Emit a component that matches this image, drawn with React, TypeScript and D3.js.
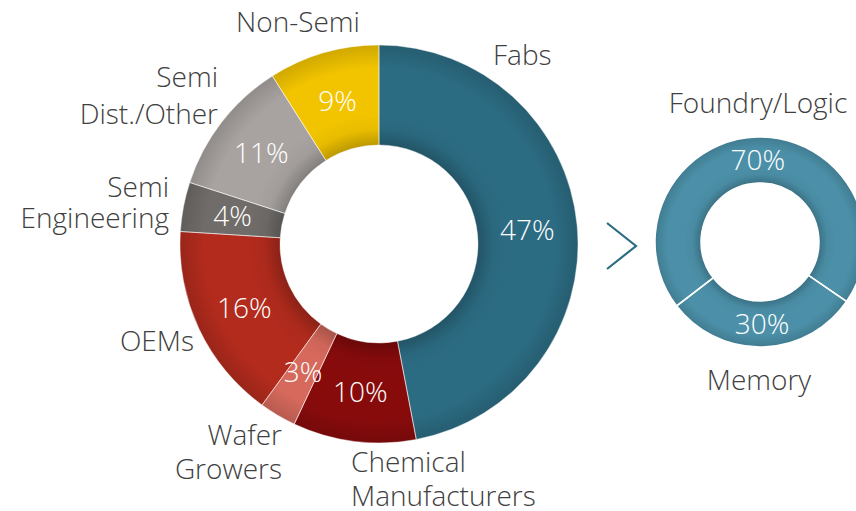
import React from "react";
import * as d3 from "d3";

// main donut, clockwise from 12 o'clock
const segments = [
  "Fabs",
  "Chemical Manufacturers",
  "Wafer Growers",
  "OEMs",
  "Semi Engineering",
  "Semi Dist./Other",
  "Non-Semi",
];
const shares = [47, 10, 3, 16, 4, 11, 9];
const colors = ["#2c6c83", "#880b0c", "#d6695c", "#b22b1d", "#6f6c69", "#a8a3a0", "#f2c400"];

// breakdown of Fabs
const fabTypes = ["Foundry/Logic", "Memory"];
const fabShares = [70, 30];

const W = 856;
const H = 511;
const FONT = "'Open Sans', Lato, sans-serif";
const TEXT = "#404040";
const FS = 28;

// label placement for the outside names (anchor x, first baseline, line gap)
const labelLayout: Record<string, { x: number; y: number; anchor: string; gap: number }> = {
  Fabs: { x: 493, y: 65, anchor: "start", gap: 0 },
  "Chemical Manufacturers": { x: 351, y: 472, anchor: "start", gap: 34 },
  "Wafer Growers": { x: 282, y: 445, anchor: "end", gap: 34 },
  OEMs: { x: 194, y: 351, anchor: "end", gap: 0 },
  "Semi Engineering": { x: 169, y: 197, anchor: "end", gap: 31 },
  "Semi Dist./Other": { x: 218, y: 87, anchor: "end", gap: 37 },
  "Non-Semi": { x: 298, y: 32, anchor: "middle", gap: 0 },
};
const splitLines: Record<string, string[]> = {
  "Chemical Manufacturers": ["Chemical", "Manufacturers"],
  "Wafer Growers": ["Wafer", "Growers"],
  "Semi Engineering": ["Semi", "Engineering"],
  "Semi Dist./Other": ["Semi", "Dist./Other"],
};

const Shade = ({ id, r0, r1 }: any) => {
  const k = r0 / r1;
  return (
    <radialGradient id={id} gradientUnits="userSpaceOnUse" cx={0} cy={0} r={r1}>
      <stop offset={k} stopColor="#000" stopOpacity={0.22} />
      <stop offset={k + 0.08} stopColor="#000" stopOpacity={0.04} />
      <stop offset={k + 0.16} stopColor="#000" stopOpacity={0} />
      <stop offset={0.88} stopColor="#000" stopOpacity={0} />
      <stop offset={1} stopColor="#000" stopOpacity={0.14} />
    </radialGradient>
  );
};

export default function App() {
  const cx = 379, cy = 244, R = 199, r = 99;
  const pie = d3.pie<number>().sort(null).value((d) => d);
  const arcs = pie(shares);
  const arc = d3.arc<d3.PieArcDatum<number>>().innerRadius(r).outerRadius(R);
  const ring = d3.arc()({ innerRadius: r, outerRadius: R, startAngle: 0, endAngle: 2 * Math.PI }) || "";

  const cx2 = 760, cy2 = 242, R2 = 105, r2 = 59;
  const a0 = (-127.5 * Math.PI) / 180;
  const pie2 = d3.pie<number>().sort(null).value((d) => d).startAngle(a0).endAngle(a0 + 2 * Math.PI);
  const arcs2 = pie2(fabShares);
  const arc2 = d3.arc<d3.PieArcDatum<number>>().innerRadius(r2).outerRadius(R2);
  const ring2 = d3.arc()({ innerRadius: r2, outerRadius: R2, startAngle: 0, endAngle: 2 * Math.PI }) || "";

  return (
    <svg
      width={W}
      height={H}
      viewBox={`0 0 ${W} ${H}`}
      style={{ position: "absolute", left: 0, top: 0, background: "#fff" }}
      fontFamily={FONT}
      fontWeight={300}
    >
      <defs>
        <Shade id="shade1" r0={r} r1={R} />
        <Shade id="shade2" r0={r2} r1={R2} />
      </defs>

      <g transform={`translate(${cx},${cy})`}>
        {arcs.map((a, i) => (
          <path key={i} d={arc(a) || ""} fill={colors[i]} />
        ))}
        <path d={ring} fill="url(#shade1)" />
        {arcs.map((a, i) => (
          <path key={"s" + i} d={arc(a) || ""} fill="none" stroke="#ffffff" strokeOpacity={0.55} strokeWidth={0.8} />
        ))}
        {arcs.map((a, i) => {
          const [x, y] = arc.centroid(a);
          return (
            <text key={i} x={x} y={y} dy="0.36em" textAnchor="middle" fill="#fff" fontSize={FS}>
              {shares[i]}%
            </text>
          );
        })}
      </g>

      {segments.map((s) => {
        const L = labelLayout[s];
        const lines = splitLines[s] || [s];
        return (
          <text key={s} x={L.x} y={L.y} textAnchor={L.anchor} fill={TEXT} fontSize={FS}>
            {lines.map((ln, j) => (
              <tspan key={j} x={L.x} dy={j === 0 ? 0 : L.gap}>
                {ln}
              </tspan>
            ))}
          </text>
        );
      })}

      <polyline points="607,223 636,246 607,269" fill="none" stroke="#2c6c83" strokeWidth={2.2} />

      <g transform={`translate(${cx2},${cy2})`}>
        {arcs2.map((a, i) => (
          <path key={i} d={arc2(a) || ""} fill="#4b90a8" />
        ))}
        <path d={ring2} fill="url(#shade2)" />
        {arcs2.map((a, i) => (
          <path key={"s" + i} d={arc2(a) || ""} fill="none" stroke="#ffffff" strokeWidth={1.5} />
        ))}
        {arcs2.map((a, i) => {
          const [x, y] = arc2.centroid(a);
          return (
            <text key={i} x={x} y={y} dy="0.36em" textAnchor="middle" fill="#fff" fontSize={FS}>
              {fabShares[i]}%
            </text>
          );
        })}
      </g>
      <text x={758} y={113} textAnchor="middle" fill={TEXT} fontSize={FS}>{fabTypes[0]}</text>
      <text x={759} y={390} textAnchor="middle" fill={TEXT} fontSize={FS}>{fabTypes[1]}</text>
    </svg>
  );
}
